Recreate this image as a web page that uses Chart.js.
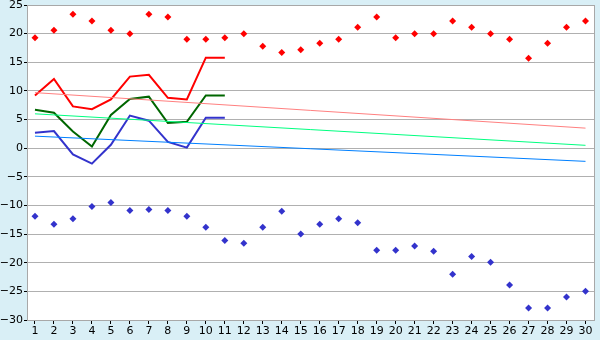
<!DOCTYPE html>
<html>
<head>
<meta charset="utf-8">
<script src="https://cdn.jsdelivr.net/npm/chart.js@4/dist/chart.umd.min.js"></script>
<style>
  html, body { margin: 0; padding: 0; background: #d9eff6; }
  #wrap { width: 600px; height: 340px; }
</style>
</head>
<body>
<div id="wrap"><canvas id="c" width="600" height="340"></canvas></div>
<script>
// --- data ---
const days = [1,2,3,4,5,6,7,8,9,10,11,12,13,14,15,16,17,18,19,20,21,22,23,24,25,26,27,28,29,30];
const highPoints = [19.3,20.6,23.4,22.2,20.6,20.0,23.4,22.9,19.0,19.0,19.3,20.0,17.8,16.7,17.2,18.3,19.0,21.1,22.9,19.3,20.0,20.0,22.2,21.1,20.0,19.0,15.7,18.3,21.1,22.2];
const lowPoints  = [-11.9,-13.3,-12.3,-10.2,-9.5,-10.9,-10.7,-10.9,-11.9,-13.8,-16.1,-16.6,-13.8,-11.0,-15.0,-13.3,-12.3,-13.0,-17.8,-17.8,-17.1,-18.0,-22.0,-18.9,-19.9,-23.9,-27.9,-27.9,-26.0,-25.0];
const maxLine  = [9.2,12.1,7.3,6.8,8.5,12.5,12.8,8.8,8.5,15.8,15.8];
const meanLine = [6.7,6.2,2.9,0.3,5.8,8.6,9.0,4.4,4.6,9.2,9.2];
const minLine  = [2.7,3.0,-1.1,-2.7,0.6,5.7,4.8,1.1,0.1,5.3,5.3];
const trendDays = [1, 30];
const maxTrend  = [9.7, 3.5];
const meanTrend = [6.0, 0.5];
const minTrend  = [2.1, -2.3];
const yTicks = [-30,-25,-20,-15,-10,-5,0,5,10,15,20,25];

const pts = (xs, ys) => ys.map((y, i) => ({ x: xs[i], y }));

function lineSet(data, color, width) {
  return { data, borderColor: color, backgroundColor: color, borderWidth: width,
           pointRadius: 0, tension: 0, fill: false, showLine: true };
}
function dotSet(data, color) {
  return { data, borderColor: color, backgroundColor: color, showLine: false,
           pointStyle: 'rectRot', pointRadius: 3.5, borderWidth: 0 };
}

// white plot area + grey frame
const frame = {
  id: 'frame',
  beforeDraw(chart) {
    const { ctx, chartArea: a } = chart;
    ctx.save();
    ctx.fillStyle = '#ffffff';
    ctx.fillRect(a.left, a.top, a.right - a.left, a.bottom - a.top);
    ctx.restore();
  },
  afterDraw(chart) {
    const { ctx, chartArea: a } = chart;
    ctx.save();
    ctx.strokeStyle = '#a8a8a8';
    ctx.lineWidth = 1;
    ctx.strokeRect(a.left + 0.5, a.top + 0.5, a.right - a.left - 1, a.bottom - a.top);
    ctx.restore();
  }
};

new Chart(document.getElementById('c'), {
  type: 'scatter',
  data: {
    datasets: [
      lineSet(pts(trendDays, maxTrend), '#ff8080', 1),
      lineSet(pts(trendDays, meanTrend), '#00ff80', 1),
      lineSet(pts(trendDays, minTrend), '#0080ff', 1),
      lineSet(pts(days, maxLine), '#ff0000', 2),
      lineSet(pts(days, meanLine), '#006600', 2),
      lineSet(pts(days, minLine), '#3333cc', 2),
      dotSet(pts(days, highPoints), '#ff0000'),
      dotSet(pts(days, lowPoints), '#3333cc'),
    ]
  },
  options: {
    responsive: false, animation: false, devicePixelRatio: 1,
    layout: { padding: { top: 5, right: 5, left: 0, bottom: 0 } },
    plugins: { legend: { display: false }, tooltip: { enabled: false } },
    scales: {
      x: {
        type: 'linear', min: 0.58, max: 30.5,
        afterBuildTicks: s => { s.ticks = days.map(v => ({ value: v })); },
        afterFit: s => { s.height = 20; s.paddingLeft = 0; s.paddingRight = 0; },
        grid: { drawOnChartArea: false, drawTicks: true, tickLength: 4, color: '#000000' },
        border: { display: false },
        ticks: { autoSkip: false, maxRotation: 0, padding: 1, color: '#000000',
                 font: { family: 'DejaVu Sans', size: 11 } },
      },
      y: {
        min: -30, max: 25,
        afterBuildTicks: s => { s.ticks = yTicks.map(v => ({ value: v })); },
        afterFit: s => { s.width = 27; s.paddingTop = 0; s.paddingBottom = 0; },
        grid: { color: '#b0b0b0', tickLength: 3, tickColor: '#000000' },
        border: { display: false },
        ticks: { padding: 1, color: '#000000', font: { family: 'DejaVu Sans', size: 11 },
                 callback: v => String(v).replace('-', '\u2212') },
      },
    },
  },
  plugins: [frame],
});
</script>
</body>
</html>
